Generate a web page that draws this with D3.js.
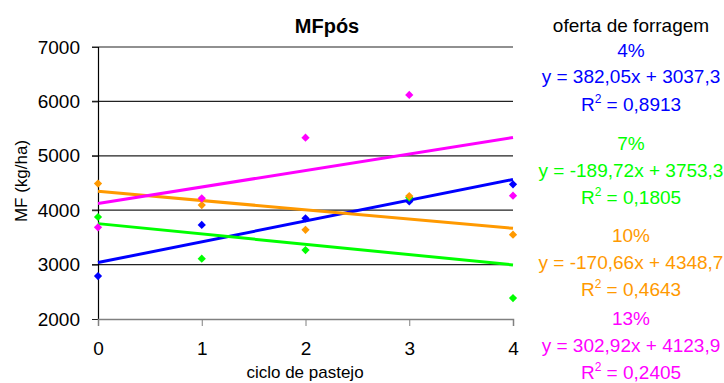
<!DOCTYPE html>
<html>
<head>
<meta charset="utf-8">
<script src="https://cdn.jsdelivr.net/npm/d3@7"></script>
<style>
  body { margin: 0; background: #fff; }
  svg text { font-family: "Liberation Sans", Arial, sans-serif; }
</style>
</head>
<body>
<svg id="chart" width="724" height="383"></svg>
<script>
// data
var ciclos = [0, 1, 2, 3, 4];
var oferta4 = [2790, 3730, 3850, 4160, 4477];
var oferta7 = [3875, 3108, 3268, 4232, 2386];
var oferta10 = [4490, 4095, 3640, 4260, 3550];
var oferta13 = [3686, 4218, 5333, 6118, 4267];

var seriesNames = ['4%', '7%', '10%', '13%'];
var slopes = [382.05, -189.72, -170.66, 302.92];
var intercepts = [3037.3, 3753.3, 4348.7, 4123.9];
var equations = ['y = 382,05x + 3037,3', 'y = -189,72x + 3753,3', 'y = -170,66x + 4348,7', 'y = 302,92x + 4123,9'];
var r2Labels = ['0,8913', '0,1805', '0,4643', '0,2405'];
var yTicks = [2000, 3000, 4000, 5000, 6000, 7000];

var colors = ['#0000ff', '#00ff00', '#ff9900', '#ff00ff'];
var allSeries = [oferta4, oferta7, oferta10, oferta13];

var svg = d3.select('#chart');

var x = d3.scaleLinear().domain([0, 4]).range([98, 513]);
var y = d3.scaleLinear().domain([2000, 7000]).range([319, 47]);

// gridlines
svg.append('g')
    .selectAll('line')
    .data(yTicks.filter(function (d) { return d > 2000; }))
    .enter().append('line')
    .attr('x1', 92).attr('x2', x(4))
    .attr('y1', function (d) { return y(d); })
    .attr('y2', function (d) { return y(d); })
    .attr('stroke', '#222').attr('stroke-width', 1.2);

// y axis
var yAxis = svg.append('g')
    .attr('transform', 'translate(' + x(0) + ',0)')
    .call(d3.axisLeft(y).tickValues(yTicks).tickSize(6).tickPadding(12).tickFormat(d3.format('d')));
yAxis.select('.domain').attr('stroke', '#000').attr('stroke-width', 1.2);
yAxis.selectAll('.tick line').attr('stroke', '#222');
yAxis.selectAll('.tick text').attr('font-size', 19).attr('fill', '#000')
    .attr('font-family', '"Liberation Sans", Arial, sans-serif');

// x axis
var xAxis = svg.append('g')
    .attr('transform', 'translate(0,' + y(2000) + ')')
    .call(d3.axisBottom(x).tickValues(ciclos).tickSize(7).tickPadding(16).tickFormat(d3.format('d')));
xAxis.select('.domain').attr('stroke', '#808080').attr('stroke-width', 1.5);
xAxis.selectAll('.tick line').attr('stroke', '#808080');
xAxis.selectAll('.tick text').attr('font-size', 19).attr('fill', '#000')
    .attr('font-family', '"Liberation Sans", Arial, sans-serif');

// trendlines
svg.append('g')
    .selectAll('line')
    .data(slopes)
    .enter().append('line')
    .attr('x1', x(0)).attr('x2', x(4))
    .attr('y1', function (d, i) { return y(intercepts[i]); })
    .attr('y2', function (d, i) { return y(intercepts[i] + d * 4); })
    .attr('stroke', function (d, i) { return colors[i]; })
    .attr('stroke-width', 3);

// markers
var diamond = d3.symbol().type(d3.symbolSquare).size(34);
allSeries.forEach(function (vals, i) {
    svg.append('g')
        .selectAll('path')
        .data(vals)
        .enter().append('path')
        .attr('d', diamond)
        .attr('transform', function (d, j) {
            return 'translate(' + x(ciclos[j]) + ',' + y(d) + ') rotate(45)';
        })
        .attr('fill', colors[i]);
});

// titles
svg.append('text')
    .attr('x', 327).attr('y', 33)
    .attr('text-anchor', 'middle')
    .attr('font-size', 20).attr('font-weight', 'bold')
    .text('MFpós');

svg.append('text')
    .attr('transform', 'translate(27,181) rotate(-90)')
    .attr('text-anchor', 'middle')
    .attr('font-size', 17)
    .text('MF (kg/ha)');

svg.append('text')
    .attr('x', 305).attr('y', 378)
    .attr('text-anchor', 'middle')
    .attr('font-size', 17)
    .text('ciclo de pastejo');

// legend text on the right
var legendX = 631;
svg.append('text')
    .attr('x', legendX).attr('y', 32)
    .attr('text-anchor', 'middle')
    .attr('font-size', 19)
    .text('oferta de forragem');

var blockTops = [57, 150, 242, 325];
var blockGaps = [[26, 54], [27, 54], [27, 54], [27, 54]];
seriesNames.forEach(function (name, i) {
    var g = svg.append('g')
        .attr('fill', colors[i])
        .attr('font-size', 19)
        .attr('text-anchor', 'middle');
    g.append('text').attr('x', legendX).attr('y', blockTops[i]).text(name);
    g.append('text').attr('x', legendX).attr('y', blockTops[i] + blockGaps[i][0]).text(equations[i]);
    var r = g.append('text').attr('x', legendX).attr('y', blockTops[i] + blockGaps[i][1]);
    r.append('tspan').text('R');
    r.append('tspan').attr('font-size', 12).attr('dy', -8).text('2');
    r.append('tspan').attr('dy', 8).text(' = ' + r2Labels[i]);
});
</script>
</body>
</html>
